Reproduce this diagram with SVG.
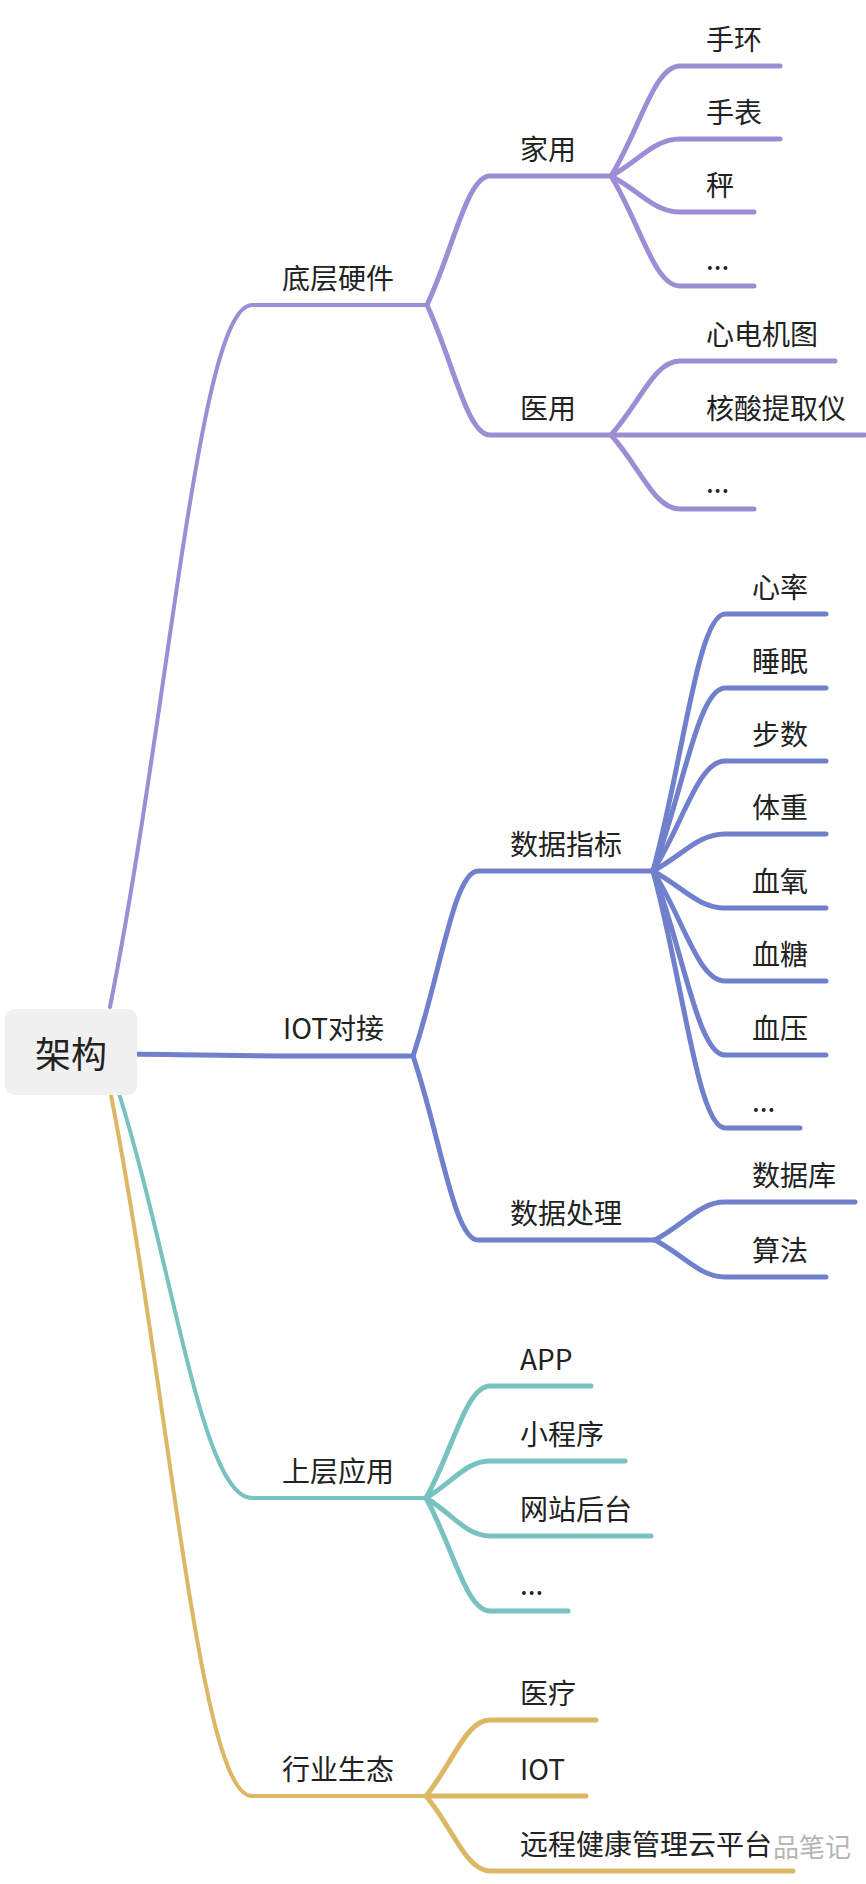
<svg xmlns="http://www.w3.org/2000/svg" width="866" height="1884" viewBox="0 0 866 1884">
<style>
text{font-family:"Noto Sans CJK SC","Microsoft YaHei",sans-serif;font-size:28px;fill:#222;dominant-baseline:central}
.c{fill:none;stroke-width:5;stroke-linecap:round;stroke-linejoin:round}
.r{stroke-width:4}
.p{stroke:#9c8dd5}
.b{stroke:#7080cc}
.t{stroke:#78c3bf}
.g{stroke:#dcb865}
.wm{fill:#b5b5b5}
</style>
<rect width="866" height="1884" fill="#ffffff"/>
<g id="connectors">
  <!-- purple -->
  <path class="c r p" d="M110,1007 C170,705 199,305 252,305 H427"/>
  <path class="c p" d="M427,305 C453,250 467,176 490,176 H611"/>
  <path class="c p" d="M427,305 C453,361 467,435 490,435 H611"/>
  <path class="c p" d="M611,176 C640,129 654,66 680,66 H780"/>
  <path class="c p" d="M611,176 C640,160 654,139 680,139 H780"/>
  <path class="c p" d="M611,176 C640,191 654,212 680,212 H754"/>
  <path class="c p" d="M611,176 C640,223 654,286 680,286 H754"/>
  <path class="c p" d="M611,435 C640,403 654,361 680,361 H835"/>
  <path class="c p" d="M611,435 H865"/>
  <path class="c p" d="M611,435 C640,467 654,509 680,509 H754"/>
  <!-- blue -->
  <path class="c b" d="M130,1054 C200,1055 240,1056 300,1056 H413"/>
  <path class="c b" d="M413,1056 C440,976 454,871 478,871 H653"/>
  <path class="c b" d="M413,1056 C440,1135 454,1240 478,1240 H655"/>
  <path class="c b" d="M653,871 C683,761 698,614 725,614 H826"/>
  <path class="c b" d="M653,871 C683,792 698,688 725,688 H826"/>
  <path class="c b" d="M653,871 C683,824 698,761 725,761 H826"/>
  <path class="c b" d="M653,871 C683,855 698,834 725,834 H826"/>
  <path class="c b" d="M653,871 C683,887 698,908 725,908 H826"/>
  <path class="c b" d="M653,871 C683,918 698,981 725,981 H826"/>
  <path class="c b" d="M653,871 C683,950 698,1055 725,1055 H826"/>
  <path class="c b" d="M653,871 C683,981 698,1128 725,1128 H800"/>
  <path class="c b" d="M655,1240 C685,1224 700,1202 725,1202 H855"/>
  <path class="c b" d="M655,1240 C685,1256 700,1277 725,1277 H826"/>
  <!-- teal -->
  <path class="c r t" d="M118,1090 C174,1269 202,1498 252,1498 H426"/>
  <path class="c t" d="M426,1498 C453,1450 466,1386 490,1386 H591"/>
  <path class="c t" d="M426,1498 C453,1482 466,1461 490,1461 H625"/>
  <path class="c t" d="M426,1498 C453,1514 466,1536 490,1536 H651"/>
  <path class="c t" d="M426,1498 C453,1547 466,1611 490,1611 H568"/>
  <!-- gold -->
  <path class="c r g" d="M110,1090 C170,1397 199,1796 252,1796 H426"/>
  <path class="c g" d="M426,1796 C453,1763 466,1720 490,1720 H596"/>
  <path class="c g" d="M426,1796 H586"/>
  <path class="c g" d="M426,1796 C453,1828 466,1871 490,1871 H793"/>
</g>
<g id="root">
  <rect x="5" y="1009" width="132" height="86" rx="9" fill="#f0f0f0"/>
  <text x="71" y="1052" text-anchor="middle" style="font-size:36px">架构</text>
</g>
<g id="n-dicengyingjian"><text x="282" y="277">底层硬件</text></g>
<g id="n-jiayong"><text x="520" y="148">家用</text></g>
<g id="n-shouhuan"><text x="706" y="38">手环</text></g>
<g id="n-shoubiao"><text x="706" y="111">手表</text></g>
<g id="n-cheng"><text x="706" y="184">秤</text></g>
<g id="n-etc1"><text x="706" y="258">...</text></g>
<g id="n-yiyong"><text x="520" y="407">医用</text></g>
<g id="n-xindian"><text x="706" y="333">心电机图</text></g>
<g id="n-hesuan"><text x="706" y="407">核酸提取仪</text></g>
<g id="n-etc2"><text x="706" y="481">...</text></g>
<g id="n-iot"><text x="283" y="1027">IOT对接</text></g>
<g id="n-shujuzhibiao"><text x="510" y="843">数据指标</text></g>
<g id="n-xinlv"><text x="752" y="586">心率</text></g>
<g id="n-shuimian"><text x="752" y="660">睡眠</text></g>
<g id="n-bushu"><text x="752" y="733">步数</text></g>
<g id="n-tizhong"><text x="752" y="806">体重</text></g>
<g id="n-xueyang"><text x="752" y="880">血氧</text></g>
<g id="n-xuetang"><text x="752" y="953">血糖</text></g>
<g id="n-xueya"><text x="752" y="1027">血压</text></g>
<g id="n-etc3"><text x="752" y="1100">...</text></g>
<g id="n-shujuchuli"><text x="510" y="1212">数据处理</text></g>
<g id="n-shujuku"><text x="752" y="1174">数据库</text></g>
<g id="n-suanfa"><text x="752" y="1249">算法</text></g>
<g id="n-shangceng"><text x="282" y="1470">上层应用</text></g>
<g id="n-app"><text x="520" y="1358">APP</text></g>
<g id="n-xiaochengxu"><text x="520" y="1433">小程序</text></g>
<g id="n-wangzhan"><text x="520" y="1508">网站后台</text></g>
<g id="n-etc4"><text x="520" y="1583">...</text></g>
<g id="n-hangye"><text x="282" y="1768">行业生态</text></g>
<g id="n-yiliao"><text x="520" y="1692">医疗</text></g>
<g id="n-iot2"><text x="520" y="1768">IOT</text></g>
<g id="n-yuancheng"><text x="520" y="1843">远程健康管理云平台</text></g>
<g id="watermark"><text class="wm" x="773" y="1845" style="font-size:26px">品笔记</text></g>
</svg>
